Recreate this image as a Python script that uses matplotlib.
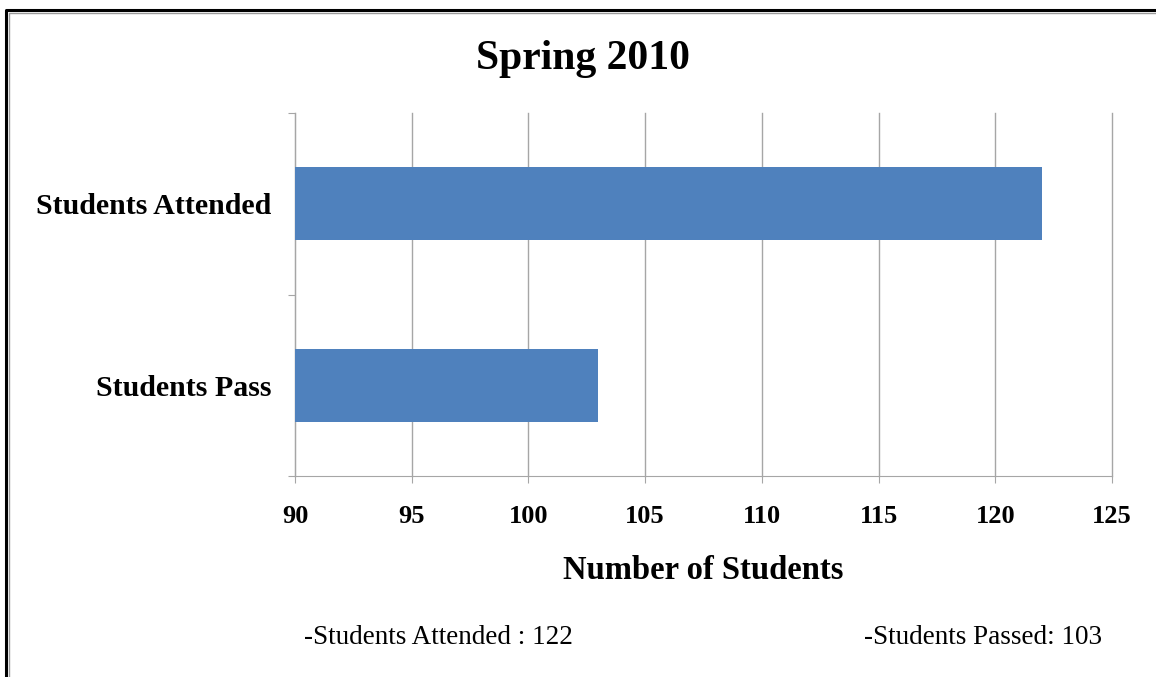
import matplotlib
matplotlib.use("Agg")
import matplotlib.pyplot as plt
from matplotlib.lines import Line2D

# data
categories = ["Students Pass", "Students Attended"]
counts = [103, 122]
x_ticks = [90, 95, 100, 105, 110, 115, 120, 125]
title = "Spring 2010"
x_label = "Number of Students"
notes = ["-Students Attended : 122", "-Students Passed: 103"]

bar_color = "#4F81BD"
grid_color = "#A6A6A6"

plt.rcParams["font.family"] = ["Liberation Serif", "DejaVu Serif"]

W, H = 1156, 677
fig = plt.figure(figsize=(W / 100, H / 100), dpi=100)
ax = fig.add_axes([295 / W, 1 - 476 / H, (1112 - 295) / W, (476 - 113) / H])

ax.barh(categories, [c - x_ticks[0] for c in counts], left=x_ticks[0],
        height=0.4, color=bar_color, zorder=3)

ax.set_xlim(x_ticks[0], x_ticks[-1])
ax.set_ylim(-0.5, 1.5)
ax.set_xticks(x_ticks)
ax.set_xticklabels([str(t) for t in x_ticks], fontsize=19, fontweight="bold")
ax.set_yticks([-0.5, 0.5, 1.5], minor=False)
ax.set_yticklabels([])
ax.set_yticks([0, 1], minor=True)
ax.set_yticklabels(categories, minor=True, fontsize=21.5, fontweight="bold")
ax.tick_params(axis="y", which="minor", length=0, pad=17)
ax.tick_params(axis="y", which="major", length=5, color=grid_color)
ax.tick_params(axis="x", length=5, color=grid_color, pad=16)
ax.grid(axis="x", color=grid_color, linewidth=1, zorder=0)
for gl in ax.get_xgridlines():
    gl.set_clip_on(False)  # keep the 125 line fully visible at the edge

for s in ["top", "right"]:
    ax.spines[s].set_visible(False)
for s in ["left", "bottom"]:
    ax.spines[s].set_color(grid_color)

ax.set_xlabel(x_label, fontsize=23.5, fontweight="bold", labelpad=19.5)

fig.text(583.5 / W, 1 - 59 / H, title, fontsize=30, fontweight="bold",
         ha="center", va="center")
fig.text(438.5 / W, 1 - 638 / H, notes[0], fontsize=19.5, ha="center", va="center")
fig.text(982.5 / W, 1 - 638 / H, notes[1], fontsize=19.5, ha="center", va="center")

# page border (black outer line, grey inner line)
fig.add_artist(Line2D([6 / W, 6 / W, 1], [0, 1 - 10 / H, 1 - 10 / H],
                      transform=fig.transFigure, color="black", linewidth=2.2))
fig.add_artist(Line2D([9 / W, 9 / W, 1], [0, 1 - 12.5 / H, 1 - 12.5 / H],
                      transform=fig.transFigure, color="#9A9A9A", linewidth=1))

fig.savefig("out.png", dpi=100)
